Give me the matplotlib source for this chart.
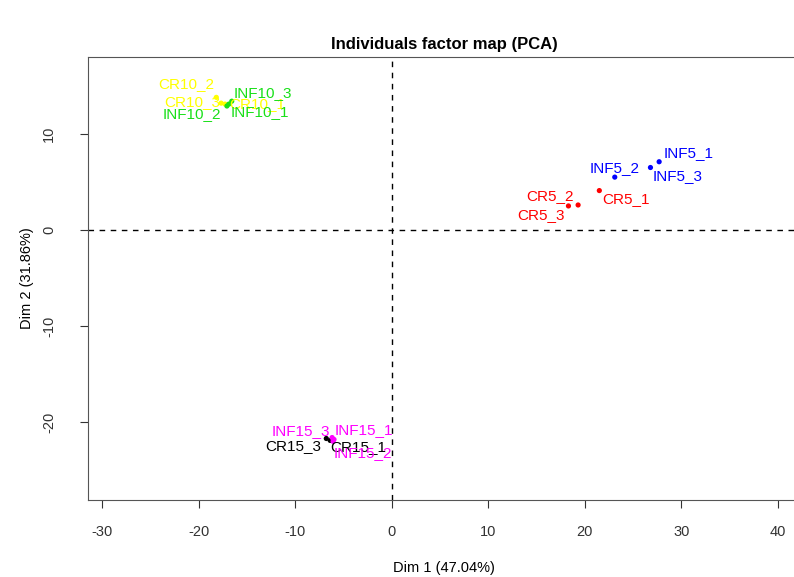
import matplotlib.pyplot as plt

plt.rcParams['font.family'] = ['Liberation Sans', 'DejaVu Sans']
plt.rcParams['axes.unicode_minus'] = False

# Coordonnées des individus sur les deux premières dimensions
noms = ['CR5_1', 'CR5_2', 'CR5_3', 'INF5_1', 'INF5_2', 'INF5_3',
        'CR10_1', 'CR10_2', 'CR10_3', 'INF10_1', 'INF10_2', 'INF10_3',
        'CR15_1', 'CR15_3', 'INF15_1', 'INF15_2', 'INF15_3']
dim1 = [21.5, 19.3, 18.3, 27.7, 23.1, 26.8,
        -17.3, -18.2, -17.7, -16.9, -17.1, -16.6,
        -6.4, -6.8, -6.0, -6.1, -6.2]
dim2 = [4.1, 2.6, 2.5, 7.1, 5.5, 6.5,
        13.1, 13.8, 13.2, 13.1, 12.9, 13.4,
        -21.9, -21.7, -21.8, -22.0, -21.6]
couleurs = ['red', 'red', 'red', 'blue', 'blue', 'blue',
            'yellow', 'yellow', 'yellow', '#18E018', '#18E018', '#18E018',
            'black', 'black', 'magenta', 'magenta', 'magenta']

# décalage des étiquettes (pixels) et alignement horizontal
decalages = {
    'CR5_1': (3, -8, 'left'), 'CR5_2': (-4, 9, 'right'), 'CR5_3': (-4, -9, 'right'),
    'INF5_1': (4, 9, 'left'), 'INF5_2': (0, 9, 'center'), 'INF5_3': (2, -9, 'left'),
    'CR10_1': (4, 0, 'left'), 'CR10_2': (-2, 13, 'right'), 'CR10_3': (-1, 1, 'right'),
    'INF10_1': (2, -8, 'left'), 'INF10_2': (-6, -8, 'right'), 'INF10_3': (2, 8, 'left'),
    'CR15_1': (0, -7, 'left'), 'CR15_3': (-5, -8, 'right'),
    'INF15_1': (1, 9, 'left'), 'INF15_2': (1, -12, 'left'), 'INF15_3': (-2, 7, 'right'),
}

fig = plt.figure(figsize=(7.94, 5.77), dpi=100)
ax = fig.add_axes([88 / 794, 1 - 500 / 577, 712 / 794, 443 / 577])

ax.axhline(0, color='black', linestyle=(0, (4, 4)), linewidth=1)
ax.axvline(0, color='black', linestyle=(0, (4, 4)), linewidth=1)

ax.scatter(dim1, dim2, c=couleurs, s=14, zorder=3, linewidths=0)

for nom, x, y, c in zip(noms, dim1, dim2, couleurs):
    dx, dy, ha = decalages[nom]
    ax.annotate(nom, (x, y), xytext=(dx * 0.72, dy * 0.72), textcoords='offset points',
                ha=ha, va='center', color=c, fontsize=11, zorder=4)

ax.set_xlim(-31.5, 42.3)
ax.set_ylim(-28.1, 18.0)
ax.set_xticks([-30, -20, -10, 0, 10, 20, 30, 40])
ax.set_yticks([-20, -10, 0, 10])
ax.tick_params(direction='out', length=6, width=0.8, labelsize=10.5, colors='#333333')
ax.tick_params(axis='x', pad=12)
ax.tick_params(axis='y', pad=17)
for lab in ax.get_yticklabels():
    lab.set_rotation(90)
    lab.set_va('center')
for sp in ax.spines.values():
    sp.set_color('#555555')

ax.set_xlabel('Dim 1 (47.04%)', fontsize=10.5, labelpad=16)
ax.set_ylabel('Dim 2 (31.86%)', fontsize=10.5, labelpad=6)
ax.set_title('Individuals factor map (PCA)', fontsize=12, fontweight='bold', pad=6)

fig.savefig('out.png', dpi=100)
